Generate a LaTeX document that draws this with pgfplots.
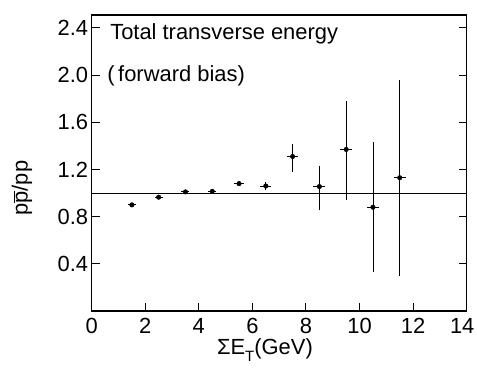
\documentclass[border=0pt]{standalone}
\usepackage{pgfplots}
\pgfplotsset{compat=1.18}
\usepackage{fontspec}
\setmainfont{Liberation Sans}
\begin{document}
\begin{tikzpicture}
\useasboundingbox (0,0) rectangle (477bp,370bp);
\begin{axis}[
  at={(91.7bp,59bp)}, anchor=south west,
  scale only axis, width=375bp, height=296bp,
  xmin=0, xmax=14, ymin=0, ymax=2.51,
  axis line style={line width=1.1pt},
  xtick={0,2,4,6,8,10,12,14},
  xticklabels={0,2,4,6,8,10,12,{\hspace*{-9bp}14}},
  ytick={0.4,0.8,1.2,1.6,2.0,2.4},
  yticklabels={0.4,0.8,1.2,1.6,2.0,2.4},
  xtick pos=lower,
  tick align=inside,
  major tick length=8bp,
  tick style={line width=1pt, black},
  /pgf/number format/assume math mode=true,
  ticklabel style={font=\fontsize{22}{26}\selectfont},
  xticklabel style={yshift=-4bp},
  clip=false,
]
\addplot[black, line width=1pt] coordinates {(0,1) (14,1)};
\addplot[only marks, mark=*, mark size=2.3pt, black,
  error bars/.cd, x dir=both, x explicit, y dir=both, y explicit,
  error bar style={line width=0.9pt}, error mark=none]
  table[x=x, y=y, x error=ex, y error plus=ep, y error minus=em] {
x     y      ex    ep     em
1.5   0.90   0.15  0.012  0.012
2.5   0.965  0.15  0.015  0.015
3.5   1.01   0.15  0.015  0.015
4.5   1.015  0.15  0.02   0.02
5.5   1.08   0.18  0.02   0.02
6.5   1.06   0.2   0.03   0.03
7.5   1.31   0.22  0.11   0.13
8.5   1.055  0.22  0.175  0.195
9.5   1.37   0.22  0.41   0.43
10.5  0.88   0.22  0.55   0.55
11.5  1.13   0.22  0.83   0.83
};
\node[anchor=base west, font=\fontsize{22}{26}\selectfont, inner sep=0pt] at (axis description cs:0.049,0.918) {Total transverse energy};
\node[anchor=base west, font=\fontsize{22}{26}\selectfont, inner sep=0pt] at (axis description cs:0.041,0.775) {(\,forward bias)};
\node[rotate=90, font=\fontsize{22}{26}\selectfont] at (axis description cs:-0.186,0.415) {p$\overline{\mbox{p}}$/pp};
\node[font=\fontsize{22}{26}\selectfont] at (axis description cs:0.462,-0.132) {ΣE\raisebox{-0.3em}{\fontsize{15}{18}\selectfont T}(GeV)};
\end{axis}
\end{tikzpicture}
\end{document}
